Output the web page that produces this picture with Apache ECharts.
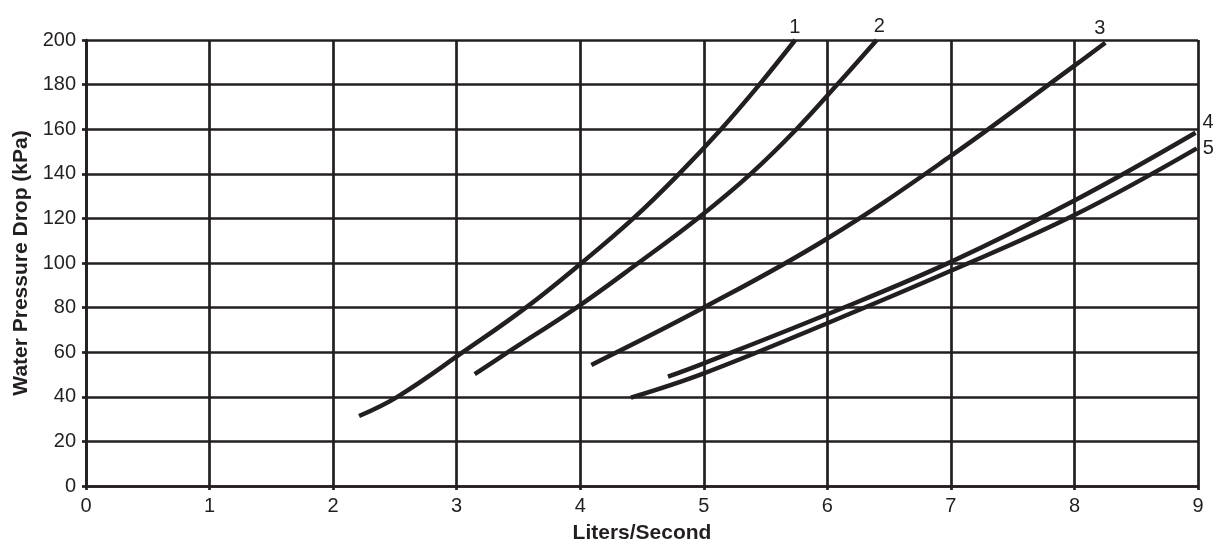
<!DOCTYPE html>
<html><head><meta charset="utf-8">
<script src="https://cdn.jsdelivr.net/npm/echarts@6/dist/echarts.min.js"></script>
<style>html,body{margin:0;padding:0;background:#fff}#c{width:1225px;height:550px}</style>
</head><body><div id="c"></div>
<script>
const xTicks = [0,1,2,3,4,5,6,7,8,9];
const yTicks = [0,20,40,60,80,100,120,140,160,180,200];
const curve1 = [[2.21,31.4],[2.52,40],[3.05,60],[3.56,80],[4.01,100],[4.43,120],[4.80,140],[5.14,160],[5.45,180],[5.74,200]];
const curve2 = [[3.146,50.2],[3.415,60],[3.97,80],[4.47,100],[4.95,120],[5.38,140],[5.75,160],[6.08,180],[6.40,200]];
const curve3 = [[4.09,54.3],[5.0,80],[6.0,111],[7.0,148],[8.0,188.5],[8.25,198.8]];
const curve4 = [[4.71,49],[5.0,55],[6.0,77],[7.0,100.5],[8.0,128],[8.98,158.4]];
const curve5 = [[4.41,39.6],[5.0,50.5],[6.0,73],[7.0,96.5],[8.0,121.5],[8.99,151.4]];
const names = ['1','2','3','4','5'];
const curves = [curve1,curve2,curve3,curve4,curve5];
const labelOffsets = [[-9,-13],[-6,-14],[-14,-14],[4,-10],[3,0]];
const ink = '#231f20';
const chart = echarts.init(document.getElementById('c'));
chart.setOption({
  animation:false,
  grid:{left:86,right:27,top:40,bottom:64},
  xAxis:{type:'value',min:0,max:9,interval:1,
    name:'Liters/Second',nameLocation:'middle',nameGap:37,
    nameTextStyle:{fontFamily:'Liberation Sans',fontWeight:'bold',fontSize:21,color:ink},
    axisLine:{show:true,lineStyle:{color:ink,width:2.7}},
    axisTick:{show:true,length:4,lineStyle:{color:ink,width:2.7}},
    axisLabel:{fontFamily:'Liberation Sans',fontSize:20,color:ink,margin:10,
      formatter:v=>String(xTicks[Math.round(v)])},
    splitLine:{show:true,lineStyle:{color:ink,width:2.7}}},
  yAxis:{type:'value',min:0,max:200,interval:20,
    name:'Water Pressure Drop (kPa)',nameLocation:'middle',nameGap:54,
    nameTextStyle:{fontFamily:'Liberation Sans',fontWeight:'bold',fontSize:21,color:ink},
    axisLine:{show:true,lineStyle:{color:ink,width:2.7}},
    axisTick:{show:true,length:4,lineStyle:{color:ink,width:2.7}},
    axisLabel:{fontFamily:'Liberation Sans',fontSize:20,color:ink,margin:10,
      formatter:v=>String(yTicks[Math.round(v/20)])},
    splitLine:{show:true,lineStyle:{color:ink,width:2.7}}},
  series: curves.map((d,i)=>({
    type:'line',name:names[i],data:d,smooth:0.4,symbol:'none',clip:false,
    lineStyle:{color:ink,width:4.5,cap:'butt'},
    endLabel:{show:true,formatter:'{a}',fontFamily:'Liberation Sans',fontSize:20,color:ink,distance:3,offset:labelOffsets[i]}
  }))
});
</script></body></html>
